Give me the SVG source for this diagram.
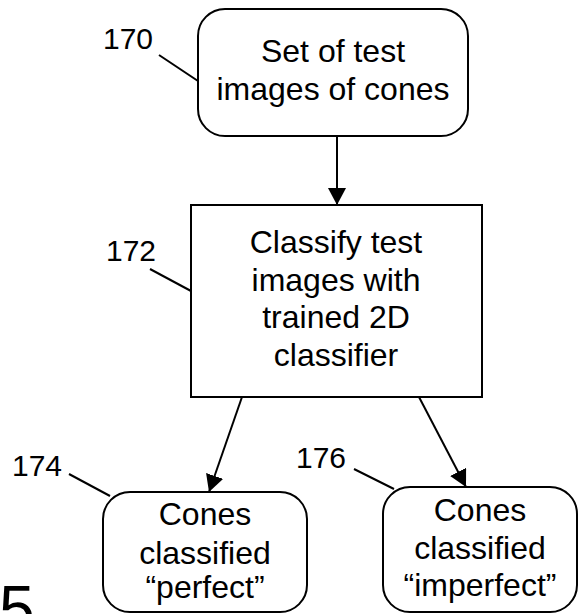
<svg xmlns="http://www.w3.org/2000/svg" width="579" height="614" viewBox="0 0 579 614">
<style>
.box{fill:#fff;stroke:#000;stroke-width:2}
.t{font-family:"Liberation Sans",Arial,sans-serif;font-size:32px;text-anchor:middle;fill:#000}
.lbl{font-family:"Liberation Sans",Arial,sans-serif;font-size:30px;fill:#000}
.ln{stroke:#000;stroke-width:2;fill:none}
</style>
<defs>
<marker id="ah" markerWidth="17" markerHeight="18" viewBox="0 0 17 18" refX="17" refY="9" orient="auto" markerUnits="userSpaceOnUse">
<path d="M0,0 L17,9 L0,18 Z" fill="#000"/>
</marker>
</defs>
<g id="connectors">
<line class="ln" x1="337" y1="136" x2="337" y2="205" marker-end="url(#ah)"/>
<line class="ln" x1="242" y1="397" x2="209" y2="492" marker-end="url(#ah)"/>
<line class="ln" x1="419" y1="397" x2="466" y2="487" marker-end="url(#ah)"/>
<line class="ln" x1="159" y1="55" x2="198" y2="81"/>
<line class="ln" x1="150" y1="269" x2="191" y2="291"/>
<line class="ln" x1="69" y1="474" x2="110" y2="496"/>
<line class="ln" x1="354" y1="469" x2="394" y2="489"/>
</g>
<g id="n170">
<rect class="box" x="198" y="9" width="270" height="127" rx="27"/>
<text class="t" x="333" y="62">Set of test</text>
<text class="t" x="333" y="100">images of cones</text>
<text class="lbl" x="103" y="49">170</text>
</g>
<g id="n172">
<rect class="box" x="191" y="205" width="291" height="192"/>
<text class="t" x="336" y="253">Classify test</text>
<text class="t" x="336" y="291">images with</text>
<text class="t" x="336" y="328">trained 2D</text>
<text class="t" x="336" y="366">classifier</text>
<text class="lbl" x="106" y="261">172</text>
</g>
<g id="n174">
<rect class="box" x="103" y="492" width="204" height="120" rx="27"/>
<text class="t" x="205" y="525">Cones</text>
<text class="t" x="205" y="564">classified</text>
<text class="t" x="205" y="598">“perfect”</text>
<text class="lbl" x="12" y="476">174</text>
</g>
<g id="n176">
<rect class="box" x="383" y="487" width="194" height="125" rx="27"/>
<text class="t" x="480" y="521">Cones</text>
<text class="t" x="480" y="559">classified</text>
<text class="t" x="480" y="596">“imperfect”</text>
<text class="lbl" x="296" y="468">176</text>
</g>
<text class="lbl" x="-1" y="631" style="font-size:64px">5</text>
</svg>
